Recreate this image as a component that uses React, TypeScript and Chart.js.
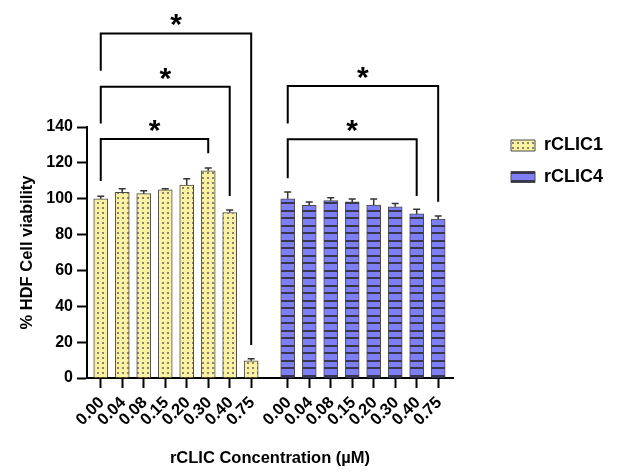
import React, { useEffect, useRef } from 'react';
import { Chart, registerables } from 'chart.js';

Chart.register(...registerables);

// ---- data ----
const concentrationLabels = ['0.00', '0.04', '0.08', '0.15', '0.20', '0.30', '0.40', '0.75'];
const clic1Means = [100, 103.5, 102.8, 105, 107.6, 115.6, 92.3, 9.6];
const clic1SD = [1.4, 2, 1.6, 0.6, 3.5, 1.5, 1.4, 1.2];
const clic4Means = [100, 96.3, 98.9, 98.2, 96.5, 95.5, 91.5, 88.7];
const clic4SD = [3.7, 1.8, 1.6, 1.6, 3.3, 1.9, 2.6, 1.7];
// category slots on the x axis (second group follows after a gap)
const clic1Slots = [0, 1, 2, 3, 4, 5, 6, 7];
const clic4Slots = [8.7, 9.7, 10.7, 11.7, 12.7, 13.7, 14.7, 15.7];
const yTickValues = [0, 20, 40, 60, 80, 100, 120, 140];
// significance brackets (slot from/to, bracket level, leg ends in % units)
const bracketFrom = [0, 0, 0, 8.7, 8.7];
const bracketTo = [5, 6, 7, 14.7, 15.7];
const bracketLevel = [133.3, 162.5, 192.2, 133.1, 162.9];
const bracketLeftEnd = [109.9, 142, 171.4, 111.4, 142];
const bracketRightEnd = [125.3, 101.5, 18.4, 101.5, 98.3];
const bracketMark = ['*', '*', '*', '*', '*'];

const allSlots = [...clic1Slots, ...clic4Slots];
const allLabels = [...concentrationLabels, ...concentrationLabels];

const FONT = '"Liberation Sans", Arial, sans-serif';
const LEGEND_FONT_SIZE = 18;
const LEGEND_PAD = 13.5;
const LEGEND_BOX_W = 24;
const RIGHT_GAP = 44.5;
const AXIS_RIGHT = 453;
const W = 629;
const H = 476;

function makeDots(ctx: CanvasRenderingContext2D) {
  const c = document.createElement('canvas');
  c.width = 5;
  c.height = 5;
  const g = c.getContext('2d')!;
  g.fillStyle = '#FAF2A2';
  g.fillRect(0, 0, 5, 5);
  g.fillStyle = '#8a846a';
  g.fillRect(2, 2, 2, 2);
  return ctx.createPattern(c, 'repeat')!;
}

function makeStripes(ctx: CanvasRenderingContext2D) {
  const c = document.createElement('canvas');
  c.width = 8;
  c.height = 15;
  const g = c.getContext('2d')!;
  g.fillStyle = '#7e7ef5';
  g.fillRect(0, 0, 8, 15);
  g.fillStyle = '#36364e';
  g.fillRect(0, 0, 8, 2);
  g.fillRect(0, 7, 8, 2);
  return ctx.createPattern(c, 'repeat')!;
}

const annotPlugin = {
  id: 'annot',
  afterDatasetsDraw(chart: any) {
    const { ctx } = chart;
    const xs = chart.scales.x;
    const ys = chart.scales.y;
    ctx.save();
    const series: [number[], number[]][] = [
      [clic1Means, clic1SD],
      [clic4Means, clic4SD],
    ];
    series.forEach(([m, sd], di) => {
      const meta = chart.getDatasetMeta(di);
      meta.data.forEach((el: any, i: number) => {
        const x = el.x;
        const y0 = ys.getPixelForValue(m[i]);
        const y1 = ys.getPixelForValue(m[i] + sd[i]);
        ctx.strokeStyle = '#333';
        ctx.lineWidth = 1.5;
        ctx.beginPath();
        ctx.moveTo(x, y0);
        ctx.lineTo(x, y1);
        ctx.moveTo(x - 3.5, y1);
        ctx.lineTo(x + 3.5, y1);
        ctx.stroke();
      });
    });
    ctx.strokeStyle = '#000';
    ctx.lineWidth = 2;
    ctx.lineJoin = 'miter';
    bracketFrom.forEach((from, i) => {
      const xl = xs.getPixelForValue(from);
      const xr = xs.getPixelForValue(bracketTo[i]);
      const y = ys.getPixelForValue(bracketLevel[i]);
      ctx.beginPath();
      ctx.moveTo(xl, ys.getPixelForValue(bracketLeftEnd[i]));
      ctx.lineTo(xl, y);
      ctx.lineTo(xr, y);
      ctx.lineTo(xr, ys.getPixelForValue(bracketRightEnd[i]));
      ctx.stroke();
      ctx.fillStyle = '#000';
      ctx.font = 'bold 30px ' + FONT;
      ctx.textAlign = 'center';
      ctx.textBaseline = 'alphabetic';
      ctx.fillText(bracketMark[i], (xl + xr) / 2, y - 16.3 + 0.575 * 30);
    });
    ctx.restore();
  },
};

export default function App() {
  const ref = useRef<HTMLCanvasElement>(null);
  useEffect(() => {
    const canvas = ref.current!;
    const ctx = canvas.getContext('2d')!;
    Chart.defaults.font.family = FONT;
    Chart.defaults.color = '#000';
    const dots = makeDots(ctx);
    const stripes = makeStripes(ctx);

    // legend width: padding + box + fontSize/2 + text (+ small spare)
    ctx.save();
    ctx.font = 'bold ' + LEGEND_FONT_SIZE + 'px ' + FONT;
    const textW = Math.max(ctx.measureText('rCLIC1').width, ctx.measureText('rCLIC4').width);
    ctx.restore();
    const legendW = Math.ceil(LEGEND_PAD + LEGEND_BOX_W + LEGEND_FONT_SIZE / 2 + textW + 2);
    const padRight = Math.max(0, W - AXIS_RIGHT - RIGHT_GAP - legendW);

    const chart = new Chart(ctx, {
      type: 'bar',
      data: {
        datasets: [
          {
            label: 'rCLIC1',
            data: clic1Slots.map((x, i) => ({ x, y: clic1Means[i] })),
            backgroundColor: dots,
            borderColor: '#4a4a4a',
            borderWidth: 1,
            barThickness: 14,
            grouped: false,
            xAxisID: 'x',
            yAxisID: 'y',
          } as any,
          {
            label: 'rCLIC4',
            data: clic4Slots.map((x, i) => ({ x, y: clic4Means[i] })),
            backgroundColor: stripes,
            borderColor: '#4a4a4a',
            borderWidth: 1,
            barThickness: 14,
            grouped: false,
            xAxisID: 'x',
            yAxisID: 'y',
          } as any,
        ],
      },
      options: {
        responsive: false,
        animation: false,
        layout: { padding: { top: 123, right: padRight, bottom: 0, left: 0 } },
        plugins: {
          legend: {
            position: 'right',
            align: 'start',
            maxWidth: legendW,
            labels: {
              boxWidth: LEGEND_BOX_W,
              boxHeight: 11,
              padding: LEGEND_PAD,
              color: '#000',
              font: { size: LEGEND_FONT_SIZE, weight: 'bold' },
            },
          },
          tooltip: { enabled: false },
        },
        scales: {
          x: {
            type: 'linear',
            position: 'bottom',
            offset: false,
            min: -0.64,
            max: 16.39,
            afterBuildTicks: (s: any) => {
              s.ticks = allSlots.map((v) => ({ value: v }));
            },
            afterFit: (s: any) => {
              s.height = 98;
            },
            ticks: {
              autoSkip: false,
              minRotation: 45,
              maxRotation: 45,
              padding: 5,
              labelOffset: 1,
              color: '#000',
              font: { size: 16.5, weight: 'bold' },
              callback: (_v: any, i: number) => allLabels[i],
            },
            grid: {
              display: true,
              offset: false,
              drawOnChartArea: false,
              drawTicks: true,
              tickLength: 10,
              tickColor: '#000',
              tickWidth: 2,
            },
            border: { display: true, color: '#000', width: 2 },
            title: {
              display: true,
              text: 'rCLIC Concentration (µM)',
              color: '#000',
              font: { size: 16.5, weight: 'bold' },
              padding: { top: 0, bottom: 8 },
            },
          },
          xTop: {
            type: 'linear',
            position: 'top',
            display: false,
            afterFit: (s: any) => {
              s.height = 4;
            },
          },
          y: {
            type: 'linear',
            position: 'left',
            min: 0,
            max: 140,
            afterBuildTicks: (s: any) => {
              s.ticks = yTickValues.map((v) => ({ value: v }));
            },
            afterFit: (s: any) => {
              s.width = 87;
            },
            ticks: {
              padding: 4,
              color: '#000',
              font: { size: 16, weight: 'bold' },
            },
            grid: {
              display: true,
              drawOnChartArea: false,
              drawTicks: true,
              tickLength: 10,
              tickColor: '#000',
              tickWidth: 2,
            },
            border: { display: true, color: '#000', width: 2 },
            title: {
              display: true,
              text: '% HDF Cell viability',
              color: '#000',
              font: { size: 16.5, weight: 'bold' },
              padding: { top: 18, bottom: 0 },
            },
          },
          yRight: {
            type: 'linear',
            position: 'right',
            display: false,
            afterFit: (s: any) => {
              s.width = RIGHT_GAP;
            },
          },
        },
      } as any,
      plugins: [annotPlugin],
    });
    return () => chart.destroy();
  }, []);
  return (
    <div style={{ position: 'absolute', left: 0, top: 0, width: W, height: H, background: '#fff' }}>
      <canvas ref={ref} width={W} height={H} />
    </div>
  );
}
